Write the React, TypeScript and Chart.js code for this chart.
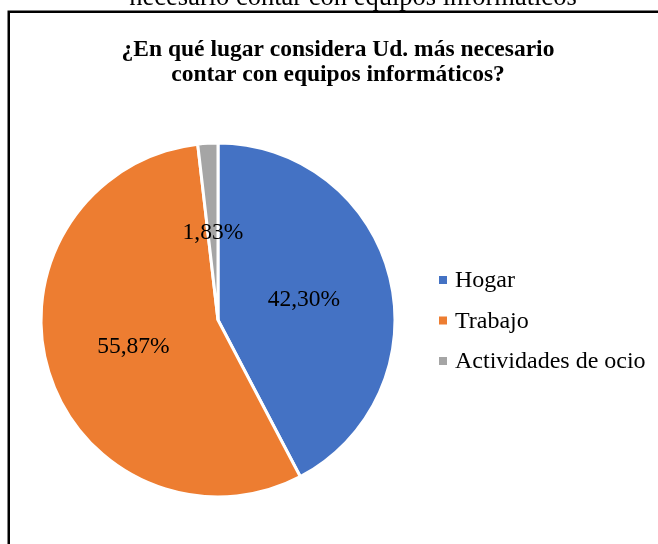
import React, { useEffect, useRef } from "react";
import { Chart, registerables } from "chart.js";

Chart.register(...registerables);

const categories = ["Hogar", "Trabajo", "Actividades de ocio"];
const values = [42.3, 55.87, 1.83];
const valueLabels = ["42,30%", "55,87%", "1,83%"];
const colors = ["#4472C4", "#ED7D31", "#A5A5A5"];
const titleLines = ["¿En qué lugar considera Ud. más necesario", "contar con equipos informáticos?"];
const cutText = "necesario contar con equipos informáticos";

const SERIF = '"Liberation Serif", "Times New Roman", serif';

const decorPlugin = {
  id: "decor",
  beforeDraw(chart: any) {
    const ctx = chart.ctx;
    ctx.save();
    ctx.fillStyle = "#ffffff";
    ctx.fillRect(0, 0, chart.width, chart.height);
    // cut-off caption above frame
    ctx.fillStyle = "#000000";
    ctx.font = `26.5px ${SERIF}`;
    ctx.textAlign = "center";
    ctx.textBaseline = "alphabetic";
    ctx.fillText(cutText, 353, 5);
    // frame
    ctx.strokeStyle = "#000000";
    ctx.lineWidth = 2.5;
    ctx.strokeRect(8.75, 11.75, 720, 620);
    // title
    ctx.font = `bold 23.5px ${SERIF}`;
    ctx.fillText(titleLines[0], 338, 56);
    ctx.fillText(titleLines[1], 338, 81);
    ctx.restore();
  },
  afterDraw(chart: any) {
    const ctx = chart.ctx;
    const meta = chart.getDatasetMeta(0);
    ctx.save();
    ctx.fillStyle = "#000000";
    ctx.font = `23.5px ${SERIF}`;
    ctx.textAlign = "center";
    ctx.textBaseline = "middle";
    meta.data.forEach((arc: any, i: number) => {
      const p = arc.tooltipPosition();
      ctx.fillText(valueLabels[i], p.x, p.y + 1);
    });
    // legend
    ctx.font = `24px ${SERIF}`;
    ctx.textAlign = "left";
    ctx.textBaseline = "middle";
    categories.forEach((c, i) => {
      const cy = 280 + i * 40.5;
      ctx.fillStyle = colors[i];
      ctx.fillRect(439, cy - 4, 8, 8);
      ctx.fillStyle = "#000000";
      ctx.fillText(c, 455, cy + 1);
    });
    ctx.restore();
  },
};

export default function App() {
  const ref = useRef<HTMLCanvasElement>(null);
  useEffect(() => {
    if (!ref.current) return;
    const chart = new Chart(ref.current, {
      type: "pie",
      data: {
        labels: categories,
        datasets: [
          {
            data: values,
            backgroundColor: colors,
            borderColor: "#ffffff",
            borderWidth: 3,
          },
        ],
      },
      options: {
        responsive: false,
        animation: false,
        devicePixelRatio: 1,
        layout: { padding: { left: 39.5, top: 141.5, right: 261.5, bottom: 45.5 } },
        plugins: {
          legend: { display: false },
          tooltip: { enabled: false },
          title: { display: false },
        },
      },
      plugins: [decorPlugin],
    });
    return () => chart.destroy();
  }, []);
  return (
    <div style={{ position: "absolute", left: 0, top: 0, width: 658, height: 544, overflow: "hidden" }}>
      <canvas ref={ref} width={658} height={544} style={{ display: "block" }} />
    </div>
  );
}
